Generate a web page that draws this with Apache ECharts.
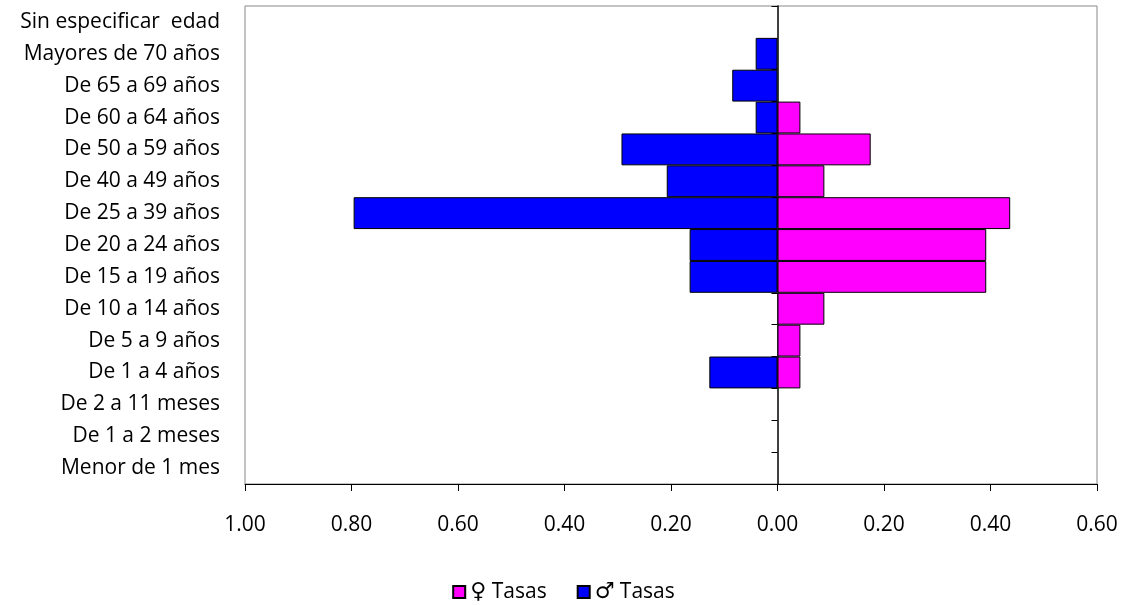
<!DOCTYPE html>
<html><head><meta charset="utf-8">
<script src="https://cdn.jsdelivr.net/npm/echarts@6/dist/echarts.min.js"></script>
<style>html,body{margin:0;padding:0;background:#fff}#c{width:1127px;height:605px}</style>
</head><body><div id="c"></div>
<script>
var categories = ['Menor de 1 mes','De 1 a 2 meses','De 2 a 11 meses','De 1 a 4 años','De 5 a 9 años','De 10 a 14 años','De 15 a 19 años','De 20 a 24 años','De 25 a 39 años','De 40 a 49 años','De 50 a 59 años','De 60 a 64 años','De 65 a 69 años','Mayores de 70 años','Sin especificar  edad'];
var femaleRates = [null,null,null,0.043,0.043,0.088,0.392,0.392,0.437,0.088,0.175,0.043,null,null,null];
var maleRates = [null,null,null,0.128,null,null,0.165,0.165,0.796,0.208,0.293,0.041,0.085,0.041,null];
var xTicks = {min:-1, max:0.6, interval:0.2};

var FONT = 'Open Sans';
var FS = 21;
var chart = echarts.init(document.getElementById('c'));
chart.setOption({
  animation:false,
  textStyle:{fontFamily:FONT},
  grid:{left:245,right:30,top:6,bottom:121,show:true,borderColor:'#888',borderWidth:1,containLabel:false},
  legend:{top:576,left:'center',itemWidth:12,itemHeight:12,itemGap:30,
    textStyle:{fontFamily:FONT,fontSize:FS,color:'#000',
      rich:{s:{fontFamily:'DejaVu Sans',fontSize:22,color:'#000'},t:{fontFamily:FONT,fontSize:FS,color:'#000'}}},
    formatter:function(n){return '{s|'+n.charAt(0)+'}{t|'+n.slice(1)+'}';},
    data:[{name:'♀ Tasas',icon:'rect'},{name:'♂ Tasas',icon:'rect'}]},
  xAxis:{type:'value',min:xTicks.min,max:xTicks.max,interval:xTicks.interval,
    splitLine:{show:false},
    axisLine:{show:true,onZero:false,lineStyle:{color:'#000',width:1}},
    axisTick:{show:true,length:7,lineStyle:{color:'#000'}},
    axisLabel:{margin:31,fontFamily:FONT,fontSize:FS,color:'#000',
      formatter:function(v){return Math.abs(v).toFixed(2);}}},
  yAxis:[
    {type:'category',data:categories,position:'left',
     axisLine:{show:false,onZero:false},axisTick:{show:false},
     axisLabel:{margin:25,fontFamily:FONT,fontSize:FS,color:'#000'}},
    {type:'category',data:categories,position:'right',
     axisLine:{show:true,onZero:true,onZeroAxisIndex:0,lineStyle:{color:'#000',width:1.5}},
     axisTick:{show:true,inside:true,length:6,lineStyle:{color:'#000'}},
     axisLabel:{show:false}}
  ],
  series:[
    {name:'♀ Tasas',type:'bar',stack:'t',yAxisIndex:0,barWidth:'100%',
     itemStyle:{color:'#FF00FF',borderColor:'#000',borderWidth:1},
     data:femaleRates},
    {name:'♂ Tasas',type:'bar',stack:'t',yAxisIndex:0,barWidth:'100%',
     itemStyle:{color:'#0000FF',borderColor:'#000',borderWidth:1},
     data:maleRates.map(function(v){return v==null?null:-v;})}
  ]
});
</script></body></html>
